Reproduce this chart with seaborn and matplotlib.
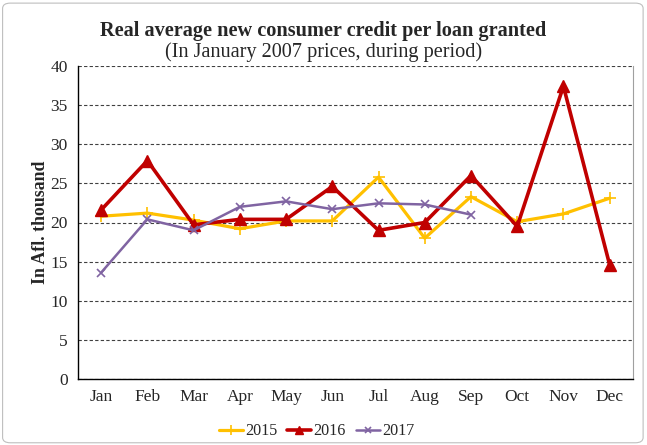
import numpy as np
import pandas as pd
import matplotlib
matplotlib.use('Agg')
import matplotlib.pyplot as plt
from matplotlib.patches import FancyBboxPatch
from matplotlib.ticker import FixedLocator, MultipleLocator
import seaborn as sns

months = ['Jan', 'Feb', 'Mar', 'Apr', 'May', 'Jun', 'Jul', 'Aug', 'Sep', 'Oct', 'Nov', 'Dec']
vals_2015 = [20.8, 21.2, 20.3, 19.2, 20.2, 20.2, 25.8, 18.0, 23.3, 20.1, 21.1, 23.1]
vals_2016 = [21.6, 27.9, 19.7, 20.4, 20.4, 24.6, 19.0, 20.0, 26.0, 19.5, 37.4, 14.6]
vals_2017 = [13.6, 20.4, 19.0, 22.0, 22.7, 21.7, 22.45, 22.3, 21.0, np.nan, np.nan, np.nan]

sns.set_style('white')
plt.rcParams['font.family'] = ['Liberation Serif', 'DejaVu Serif']

series = [
    ('2015', vals_2015, '#FFC000', '+', 2.3, 9, 1.2),
    ('2016', vals_2016, '#C00000', '^', 2.6, 8, 1.0),
    ('2017', vals_2017, '#8064A2', 'x', 1.8, 6, 1.2),
]

fig = plt.figure(figsize=(6.47, 4.45), dpi=100)
ax = fig.add_axes([0.1206, 0.148, 0.8574, 0.704])

for name, vals, col, mk, lw, ms, mew in series:
    df = pd.DataFrame({'month': months, 'value': vals}).dropna()
    sns.lineplot(data=df, x='month', y='value', ax=ax, color=col, lw=lw,
                 marker=mk, markersize=ms, markeredgewidth=mew,
                 markeredgecolor=col, label=name, sort=False)

ax.set_xlim(-0.5, len(months) - 0.5)
ax.set_ylim(0, 40)
ax.yaxis.set_major_locator(MultipleLocator(5))
ax.set_xlabel('')
ax.set_ylabel('In Afl. thousand', fontsize=12.8, fontweight='bold', labelpad=1)
ax.tick_params(axis='x', which='major', length=0, labelsize=12.5, pad=7)
ax.xaxis.set_minor_locator(FixedLocator(np.arange(-0.5, len(months), 1)))
ax.tick_params(axis='x', which='minor', length=5, width=0.8, color='#808080', direction='out')
ax.tick_params(axis='y', labelsize=12.5, length=4, width=0.8, direction='out', color='#808080')
ax.yaxis.grid(True, linestyle=(0, (3, 2)), color='#404040', linewidth=0.8)
ax.set_axisbelow(True)
for s in ['left', 'bottom']:
    ax.spines[s].set_color('black')
    ax.spines[s].set_linewidth(1.0)
ax.spines['right'].set_color('#A0A0A0')
ax.spines['right'].set_linewidth(0.8)
ax.spines['top'].set_visible(False)

leg = ax.legend(loc='upper center', bbox_to_anchor=(0.43, -0.095), ncol=3, frameon=False,
                fontsize=11.6, handlelength=1.5, handletextpad=0.15, columnspacing=0.6,
                markerscale=0.8)

fig.text(0.5, 0.92, 'Real average new consumer credit per loan granted',
         ha='center', fontsize=14.6, fontweight='bold')
fig.text(0.5, 0.872, '(In January 2007 prices, during period)', ha='center', fontsize=14.6)

fig.patches.append(FancyBboxPatch((0.004, 0.005), 0.99, 0.988, boxstyle='round,pad=0,rounding_size=0.012',
                                  transform=fig.transFigure, fill=False, edgecolor='#BFBFBF', linewidth=0.8))

plt.savefig('out.png', dpi=100)
